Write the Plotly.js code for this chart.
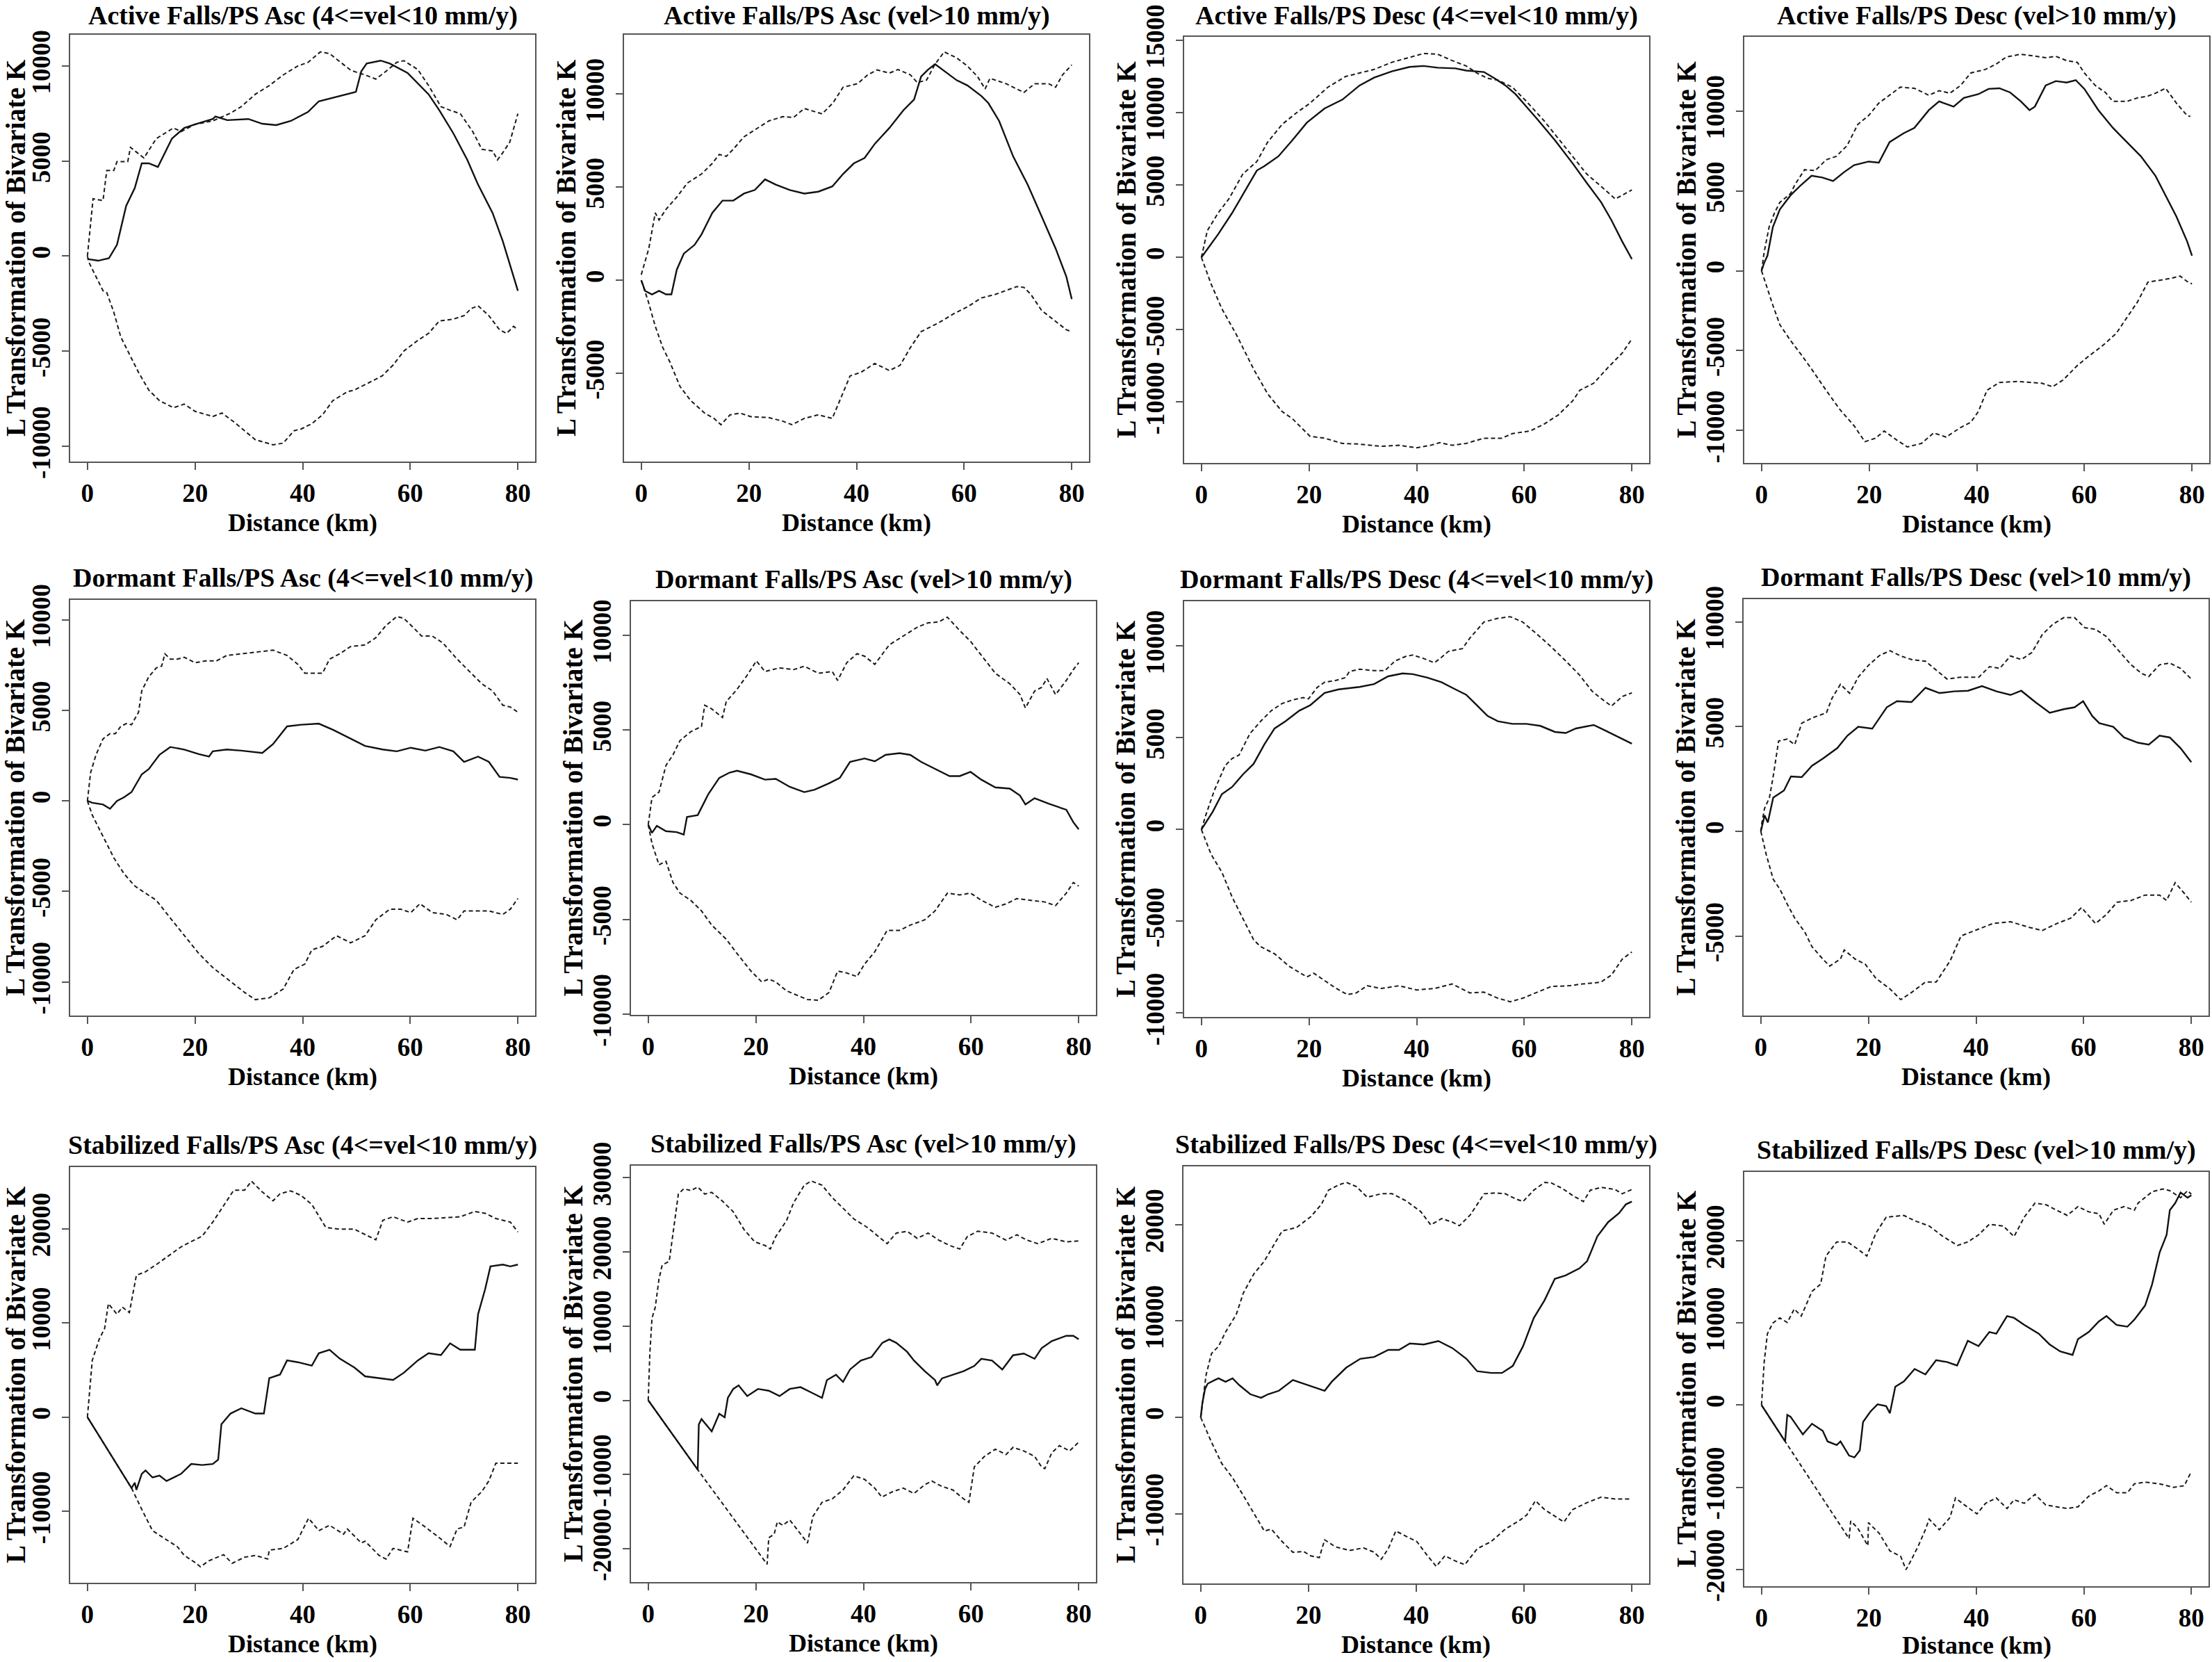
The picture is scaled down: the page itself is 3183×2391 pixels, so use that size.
<!DOCTYPE html>
<html><head><meta charset="utf-8">
<script src="https://cdn.plot.ly/plotly-3.0.1.min.js"></script>
<style>html,body{margin:0;padding:0;background:#fff}#chart{width:3183px;height:2391px}</style>
</head><body><div id="chart"></div>
<script>
// ---------------- DATA ----------------
const X_TICKS = [0, 20, 40, 60, 80];

// Panel 1: Active Falls/PS Asc (4<=vel<10 mm/y)
const p1_obs_x = [0,2,4,5.5,7.2,8.8,10.1,11.4,13.1,14.1,15.7,18,20,23.3,23.8,26,29.9,32.5,35.1,37.8,41,43,46.3,49.9,50.9,51.9,54.5,56.2,59.5,61.4,63.4,65.4,68,70.6,72.6,75.3,77.2,80];
const p1_obs_y = [-150,-240,-110,600,2640,3580,4880,4880,4690,5250,6180,6740,6930,7210,7340,7150,7210,6960,6890,7110,7580,8140,8380,8640,9720,10130,10280,10130,9630,9070,8510,7670,6460,5060,3760,2270,780,-1820];
const p1_hi_x = [0,1.05,2.9,3.6,4.9,5.5,7.5,8,10.5,12.8,16,17.4,20,23.3,26.6,28.6,31.2,33.8,36.4,39.1,41,43.3,45,47,49,51.6,53.6,55.5,57.5,58.8,61.4,63.4,65.7,67.4,69.3,71.6,73.3,75.3,76.2,77.2,78.5,80];
const p1_hi_y = [0,3020,2920,4500,4500,4970,4970,5720,5160,6180,6740,6550,6930,7110,7520,7860,8510,8970,9530,10000,10190,10740,10650,10190,9760,9530,9310,9720,10190,10280,9810,8970,7860,7670,7490,6550,5620,5530,5060,5440,6000,7490];
const p1_lo_x = [0,0.3,1.6,2.9,3.6,4.9,6.2,7.5,9.5,11.4,13.4,16,18,20,23.3,25,27.2,31.2,34.5,36.4,38.4,39.7,41.7,43.7,45.6,48.3,49.6,52.2,54.8,56.8,58.8,61.4,63.4,65.4,68,70,71.3,72.6,74.6,76.6,77.9,79.2,80];
const p1_lo_y = [0,-335,-1080,-1820,-1920,-2940,-4250,-4990,-6110,-7040,-7600,-7970,-7780,-8160,-8430,-8250,-8710,-9650,-9920,-9830,-9180,-9090,-8810,-8340,-7600,-7130,-7040,-6670,-6290,-5730,-4990,-4430,-4060,-3410,-3310,-3130,-2760,-2610,-3130,-3870,-4060,-3690,-3870];
const p1_ticks = [-10000,-5000,0,5000,10000];

// Panel 2: Active Falls/PS Asc (vel>10 mm/y)
const p2_obs_x = [0,0.7,2,3.3,4.6,5.6,6.6,7.9,9.9,11.2,13.2,15.1,17.1,19.1,21.1,23,25,27.6,30.3,32.9,35.5,37.5,39.5,41.5,43.4,46.1,48.7,50.7,52,53.3,54.6,56,58.6,60.6,63.2,64.5,66.5,69.1,71.8,74.4,77,79,80];
const p2_obs_y = [0,-570,-760,-570,-760,-760,570,1430,1900,2470,3620,4280,4280,4660,4850,5420,5140,4850,4660,4760,5040,5710,6280,6570,7330,8180,9130,9710,10940,11320,11610,11320,10750,10470,9900,9520,8560,6660,5140,3430,1710,190,-1010];
const p2_hi_x = [0,1.4,2.6,3.3,4.6,6.6,8.6,11.2,13.2,14.5,15.8,17.1,19.1,21.1,23.7,26.3,28.3,30.3,33.6,35.6,37.5,40.2,42.1,43.8,46.1,47.7,50,51.3,53,54.6,56.3,58.6,60.6,62.5,63.9,64.8,67.8,71.1,73.1,75.7,77,78.3,80];
const p2_hi_y = [300,1710,3620,3240,3810,4470,5230,5710,6280,6760,6660,7040,7710,8090,8560,8790,8750,9230,8940,9520,10370,10560,11040,11300,11130,11320,11040,10620,10750,11610,12270,11950,11510,10940,10280,10850,10560,10090,10560,10560,10370,11040,11570];
const p2_lo_x = [0,1.3,2.6,4,5.3,7.2,9.2,11.8,13.5,14.8,16.5,18.4,20.4,23.7,26.3,28,30.3,32.9,35.5,36.9,38.8,40.8,43.4,46.1,48.1,50,52,55.3,58,60.6,63.2,65.8,68.5,69.8,71.1,72.4,74.4,77,79,80];
const p2_lo_y = [0,-1140,-2470,-3620,-4380,-5710,-6470,-7140,-7420,-7760,-7230,-7140,-7330,-7380,-7570,-7760,-7420,-7230,-7420,-6470,-5140,-4950,-4470,-4850,-4570,-3620,-2760,-2280,-1810,-1430,-950,-760,-480,-340,-380,-760,-1620,-2190,-2660,-2760];
const p2_ticks = [-5000,0,5000,10000];

// Panel 3: Active Falls/PS Desc (4<=vel<10 mm/y)
const p3_obs_x = [0,3.1,5.7,8.4,10.3,11.7,14.3,16.9,19.6,22.9,26.2,29.4,32.1,35.4,38.7,41.3,43.9,47.2,49.2,52.5,54.5,56.5,58.4,60.4,62.4,65.7,69,71.6,74.3,76.2,78.2,80];
const p3_obs_y = [0,1590,3060,4780,6000,6300,6980,8090,9310,10290,10900,11880,12420,12860,13160,13230,13110,13060,12910,12810,12370,11880,11270,10410,9560,8090,6490,5150,3800,2570,1100,-120];
const p3_hi_x = [0,1.1,3.1,5.1,7.7,10.3,12.3,15,17.6,20.2,23.5,26.8,29.4,32.1,35.4,38.7,41.3,43.9,46.6,49.2,51.2,53.2,55.1,57.8,60.4,63.7,66.3,69,71.6,74.3,76.9,78.2,80];
const p3_hi_y = [0,1840,3060,4040,5760,6620,7960,9190,9970,10660,11760,12500,12740,12990,13480,13840,14090,14040,13600,13230,12740,12370,12250,11760,10780,9430,8210,6980,5760,4900,4040,4290,4660];
const p3_lo_x = [0,1.8,3.8,6.4,9.7,12.3,15,16.9,20.2,22.9,26.2,29.4,33.4,36.7,40,42.6,44.3,46.6,49.2,52.5,55.8,57.8,61.1,63.7,66.3,69,70.3,72.9,75.6,78.2,80];
const p3_lo_y = [0,-1840,-3550,-5270,-7720,-9430,-10660,-11150,-12370,-12500,-12860,-12910,-13060,-12990,-13160,-12990,-12810,-12990,-12860,-12500,-12500,-12180,-12000,-11520,-10900,-9920,-9190,-8700,-7600,-6620,-5640];
const p3_ticks = [-10000,-5000,0,5000,10000,15000];

// Panel 4: Active Falls/PS Desc (vel>10 mm/y)
const p4_obs_x = [0,0.5,1.1,2.1,3.4,5.4,7.4,9.3,11.3,13.3,15.3,17.2,19.9,21.8,23.8,26.4,28.4,31.1,33,35.7,37.6,40.3,42.2,44.2,46.2,48.2,49.8,50.8,52.8,54.7,56.7,58.4,60,62.6,65.3,67.9,70.5,73.2,75.1,77.1,79.1,80];
const p4_obs_y = [0,510,950,2730,3840,4730,5390,5950,5840,5620,6170,6620,6840,6770,8060,8610,8950,10060,10610,10280,10830,11060,11390,11430,11170,10610,10060,10280,11610,11880,11790,11940,11390,10060,8950,8060,7170,5950,4730,3400,1840,950];
const p4_hi_x = [0,0.5,1.4,2.4,3.4,5.4,6.2,8,10,12,13.9,15.9,17.9,19.9,21.8,23.8,25.8,28.4,31.1,33,35,37,38.9,41.6,43.6,45.5,48.2,50.8,52.8,54.7,56.7,58.7,60,62,63.9,65.3,67.9,69.9,71.8,73.2,75.1,77.1,79.1,79.7];
const p4_hi_y = [0,1180,2730,3620,4280,4840,5390,6330,6280,6950,7170,7840,9170,9720,10500,10990,11500,11430,10990,11280,11120,11610,12390,12610,12940,13390,13560,13450,13340,13430,13160,13050,12390,11610,11170,10610,10610,10830,10940,11120,11430,10500,9720,9660];
const p4_lo_x = [0,0.8,2.1,3.4,5.4,7.4,9.3,12,14.6,17.2,19.2,21.2,22.8,25.1,27.1,29.7,32,34.3,37,38.9,40.3,41.9,44.2,47.5,50.1,52.1,54.1,56.1,58.7,60.7,63.3,65.9,67.9,69.9,71.8,73.8,75.8,77.8,79.1,80];
const p4_lo_y = [0,-820,-2150,-3370,-4370,-5260,-6150,-7480,-8700,-9700,-10700,-10480,-10030,-10590,-11030,-10810,-10150,-10410,-9810,-9480,-8810,-7480,-6990,-6930,-6990,-7040,-7260,-6820,-5930,-5370,-4710,-3930,-2930,-1930,-710,-600,-490,-330,-670,-820];
const p4_ticks = [-10000,-5000,0,5000,10000];

// Panel 5: Dormant Falls/PS Asc (4<=vel<10 mm/y)
const p5_obs_x = [0,0.9,2.9,4.2,5.5,6.8,8.2,10.1,11.4,13.4,15.4,18,20.7,22.6,23.3,25.9,28.6,32.5,34.5,37.1,39.7,43,45.7,48.9,51.6,54.9,57.5,60.1,62.8,65.4,68,70,72.6,74.6,76.6,78.6,80];
const p5_obs_y = [0,-100,-200,-430,0,200,490,1470,1760,2550,2980,2840,2590,2450,2740,2840,2780,2650,3140,4120,4210,4270,3920,3430,3040,2840,2740,2940,2780,2980,2740,2160,2450,2160,1330,1270,1180];
const p5_hi_x = [0,0.6,1.6,2.9,4.2,5.2,6.2,7.2,8.2,9.5,10.1,11.4,12.8,13.8,14.4,15.4,16.7,18,20,22,24,25.9,28.6,31.2,34.5,37.1,39.1,40.4,42.4,43.7,45,46.9,48.9,51.6,53.6,55.5,57.5,58.8,60.8,62.1,64.1,66.1,68.7,70.7,73.3,75.3,77.2,78.6,80];
const p5_hi_y = [0,1570,2550,3430,3720,3720,4120,4270,4210,4900,6080,6860,7350,7450,8130,7840,7840,7940,7640,7740,7740,8040,8130,8230,8330,8040,7550,7060,7060,7060,7840,8130,8530,8620,9020,9700,10190,10090,9510,9110,9110,8720,7840,7250,6470,6080,5290,5190,4900];
const p5_lo_x = [0,0.9,2.9,4.9,6.8,8.8,10.8,12.8,15.4,18,20.7,23.3,25.9,29.2,31.2,33.8,36.4,38.4,40.4,41.7,43.7,46.3,48.9,51.6,53.6,56.2,58.2,60.1,61.8,64.1,66.7,68.7,70,72.6,74.6,77.2,78.6,80];
const p5_lo_y = [0,-780,-1960,-3140,-4020,-4700,-5100,-5490,-6470,-7450,-8430,-9210,-9800,-10580,-10980,-10880,-10390,-9310,-9020,-8230,-8040,-7450,-7840,-7450,-6570,-5980,-5980,-6170,-5680,-6170,-6270,-6570,-6080,-6080,-6080,-6270,-5980,-5390];
const p5_ticks = [-10000,-5000,0,5000,10000];

// Panel 6: Dormant Falls/PS Asc (vel>10 mm/y)
const p6_obs_x = [0,0.7,1.6,3.3,5.3,6.6,7.2,9.2,11.2,13.2,15.1,16.5,19.1,21.7,23.7,26.3,29,30.9,33.6,35.6,37.5,40.2,42.1,44.1,46.7,48.7,50.7,53.3,56,57.9,59.9,61.9,64.5,67.2,69.1,70.1,71.8,74.4,76.4,77.7,79,80];
const p6_obs_y = [0,-430,-60,-340,-390,-520,410,510,1630,2470,2750,2850,2660,2380,2420,2000,1720,1850,2190,2470,3320,3500,3350,3690,3780,3690,3320,2940,2570,2570,2790,2380,1970,1910,1540,1070,1400,1110,920,790,130,-240];
const p6_hi_x = [0,0.7,2,3.3,4.6,5.9,7.9,9.9,10.5,11.8,13.8,14.5,16.5,18.4,20.1,21.7,24.4,27,29,31.6,34.2,35.2,36.9,38.8,40.2,42.1,44.8,47.4,50,52,54,55.6,57.9,59.9,61.9,64.5,67.2,69.1,70.1,71.8,73.1,74.1,75.7,77.7,79,80];
const p6_hi_y = [0,1440,1720,3130,3690,4440,4910,5190,6310,6120,5660,6500,7150,7900,8650,8090,8280,8190,8370,8000,8090,7620,8560,9030,8900,8470,9500,9960,10430,10660,10710,10960,10250,9680,8930,8000,7440,6870,6160,7060,7250,7720,6870,7620,8190,8560];
const p6_lo_x = [0,0.7,2,3.3,4.6,5.9,7.9,9.9,11.8,14.5,16.5,19.1,21.1,22.4,23.7,25.7,27.7,29.6,31.6,33.6,35.2,36.9,38.8,40.2,42.1,44.4,46.7,48.7,51.4,53.3,55.6,57.9,59.9,61.9,64.5,66.5,68.5,71.1,73.7,75.7,77.7,79,80];
const p6_lo_y = [0,-990,-2120,-1930,-3050,-3610,-3990,-4550,-5300,-6050,-6800,-7730,-8300,-8150,-8300,-8770,-9010,-9230,-9270,-8860,-7730,-7830,-8020,-7360,-6710,-5580,-5580,-5300,-5020,-4550,-3610,-3710,-3610,-3990,-4360,-4180,-3900,-3990,-4080,-4270,-3610,-3050,-3240];
const p6_ticks = [-10000,-5000,0,5000,10000];

// Panel 7: Dormant Falls/PS Desc (4<=vel<10 mm/y)
const p7_obs_x = [0,0.8,2.1,3.8,5.7,7.7,9.7,11.7,13.6,15.6,18.2,20.2,22.9,25.5,29.4,32.1,34.7,37.4,39.3,42,44.6,47.2,49.2,51.2,53.2,55.1,57.8,60.4,63,65.7,67.7,69.6,71.6,72.9,74.9,76.9,80];
const p7_obs_y = [0,390,970,1930,2320,3000,3580,4640,5510,5900,6480,6770,7450,7640,7770,7930,8350,8510,8470,8280,8030,7640,7350,6770,6190,5900,5760,5760,5650,5320,5260,5510,5610,5700,5420,5130,4680];
const p7_hi_x = [0,0.8,2.4,4.4,5.7,7,9,11,13,15,16.9,18.9,19.9,21.5,22.9,24.9,26.8,27.5,29.4,32.1,34.1,36,38,39.3,41.3,43.3,44.6,45.9,48.5,49.9,52.5,55.1,57.4,59.7,62.4,65,67.7,70.3,72.6,74.2,76.2,78.2,80];
const p7_hi_y = [0,770,2130,3480,3870,4060,5220,5900,6480,6870,7060,7190,7120,7740,8030,8120,8280,8610,8740,8660,8660,9190,9440,9510,9320,9090,9380,9710,9860,10440,11310,11510,11600,11310,10640,9960,9190,8410,7540,7160,6730,7250,7450];
const p7_lo_x = [0,1.8,3.8,5.7,7.7,9.7,11,13.6,16.3,19.6,20.9,22.9,24.8,27.1,28.8,30.8,33.4,36.7,40,43.3,46.6,49.9,52.5,55.1,57.4,59.7,62.4,65,68.3,70.9,74.2,76.2,78.2,80];
const p7_lo_y = [0,-1350,-2320,-3670,-4840,-6000,-6380,-6770,-7450,-8030,-7830,-8220,-8610,-8990,-8900,-8510,-8660,-8510,-8740,-8660,-8410,-8900,-8860,-9190,-9380,-9190,-8860,-8550,-8510,-8410,-8320,-7930,-7060,-6670];
const p7_ticks = [-10000,-5000,0,5000,10000];

// Panel 8: Dormant Falls/PS Desc (vel>10 mm/y)
const p8_obs_x = [0,0.7,1.3,2.3,4.3,5.6,7.6,9.5,11.5,14.2,16.1,18.1,20.7,23.4,25.3,28,30.6,33.2,35.9,38.5,41.1,43.8,46.4,48.4,51,53.7,56.3,58.3,59.9,61.6,62.9,65.5,67.5,70.1,72.1,74.1,76,78,80];
const p8_obs_y = [0,760,420,1610,1950,2620,2590,3130,3470,3970,4570,4990,4900,5920,6210,6170,6850,6600,6680,6710,6930,6680,6510,6710,6170,5660,5830,5920,6210,5500,5160,4990,4480,4230,4140,4570,4480,3970,3300];
const p8_hi_x = [0,0.2,0.7,1.6,2.3,3.3,4.9,6.3,7.6,9.5,12.2,13.2,14.8,16.5,18.1,20.1,22.1,24,26,28,30.6,32.6,34.6,37.2,40.5,42.5,44.4,46.4,48.4,50.4,52.3,54.3,56.3,58.3,60.2,62.2,64.2,66.2,68.8,70.8,72.1,74.1,76,78,80];
const p8_hi_y = [0,420,1100,1610,2620,4310,4400,4140,5160,5410,5660,6340,7020,6590,7360,7950,8400,8620,8370,8200,8120,7690,7270,7360,7360,7860,7780,8370,8200,8540,9390,9890,10200,10200,9720,9640,9300,8710,7950,7530,7390,7950,8030,7780,7270];
const p8_lo_x = [0,1,2.3,3.6,4.9,6.3,8.2,9.5,11.5,12.8,14.8,15.5,17.5,19.4,21.4,24,26,28,30.6,32.6,35.2,37.2,39.8,43.1,46.4,49.7,52.3,55,57.6,59.6,62.2,64.2,66.2,68.8,71.4,74.1,75.4,77,78.7,80];
const p8_lo_y = [0,-1100,-2280,-2790,-3470,-4140,-4820,-5500,-6090,-6430,-6090,-5660,-6090,-6340,-7020,-7520,-8030,-7690,-7190,-7190,-6170,-4990,-4730,-4400,-4310,-4570,-4730,-4400,-4140,-3640,-4400,-3970,-3380,-3300,-3040,-3040,-3300,-2450,-2960,-3380];
const p8_ticks = [-5000,0,5000,10000];

// Panel 9: Stabilized Falls/PS Asc (4<=vel<10 mm/y)
const p9_obs_x = [0,8.2,8.8,9.1,10.1,10.8,12.1,13.4,14.7,16.1,17.4,19.3,21.3,23.3,24.3,24.9,26.6,28.6,31.2,32.8,33.8,35.8,37.1,39.1,41.7,43,45,46.9,49.6,51.6,54.2,56.8,58.8,61.4,63.4,65.7,67.4,69.3,72,72.6,73.9,74.9,77.2,78.6,80];
const p9_obs_y = [0,-7530,-6960,-7720,-6020,-5650,-6400,-6210,-6780,-6400,-6020,-4970,-5080,-4970,-4520,-750,380,940,380,380,4140,4520,6020,5830,5460,6780,7150,6210,5270,4330,4140,3950,4710,6020,6780,6590,7830,7150,7150,10920,13550,16000,16190,16000,16190];
const p9_hi_x = [0,0.9,2.2,3.2,3.9,5.5,6.5,7.8,9.1,10.8,12.8,14.7,17.4,19.3,21.3,23.3,25.3,27.2,29.2,30.5,32.5,34.5,35.8,37.8,39.7,41.7,44.3,46.9,49.6,51.6,53.6,54.9,56.8,59.5,61.4,64.1,66.7,69.3,72,73.9,75.9,78.6,80];
const p9_hi_y = [0,6020,8280,9410,12050,10920,11670,11100,15060,15430,16190,16940,18070,18630,19200,20700,22400,24090,24090,25030,23900,22960,23710,24010,23530,22580,20140,19950,19950,19380,18820,20890,21270,20700,21080,21080,21150,21270,21830,21640,21080,20700,19650];
const p9_lo_x = [0,8.2,10.1,12.1,14.1,16.7,18,20,21,22.6,25.3,26.9,29.2,31.2,33.5,33.8,36.4,39.1,41.1,43,45,47.6,48.3,50.9,51.6,54.2,55.5,56.8,59.5,60.5,62.8,65.4,67.4,68.7,70,71.3,73.3,74.6,75.9,77.9,80];
const p9_lo_y = [0,-7530,-9790,-12050,-12800,-13740,-14680,-15430,-15880,-15240,-14600,-15510,-14870,-14680,-15060,-14120,-13930,-12990,-10730,-12050,-11480,-12420,-11860,-13360,-13170,-14680,-15060,-13930,-14300,-10730,-11670,-12800,-13740,-11860,-11670,-9030,-7900,-6780,-4890,-4890,-4890];
const p9_ticks = [-10000,0,10000,20000];

// Panel 10: Stabilized Falls/PS Asc (vel>10 mm/y)
const p10_obs_x = [0,9.2,9.4,9.9,11.8,13.2,14.2,14.8,15.8,16.8,18.4,20.4,22.4,24.4,26.3,28.3,30.3,32.3,33.2,34.9,36.2,37.5,39.5,41.5,43.5,44.8,46.1,48.1,49.4,51.4,53.3,53.7,54.6,56.6,58.6,60.6,61.9,63.9,65.8,67.8,69.8,71.8,73.1,75,77.7,79,80];
const p10_obs_y = [0,-9360,-3250,-2530,-4200,-1810,-2290,330,1530,2010,570,1530,1290,570,1530,1770,1050,330,2720,3440,2480,4150,5350,5830,7740,8210,7740,6540,5350,3920,2720,2010,2960,3440,3920,4630,5590,5350,4150,6070,6300,5590,7020,7980,8690,8690,8210];
const p10_hi_x = [0,0.3,0.7,1.3,2,2.6,3.9,4.6,5.6,6.6,7.9,9.2,10.5,11.8,13.8,15.8,17.8,19.8,21.7,22.7,23.7,25.7,27,29,30.3,32.3,34.2,36.2,38.2,40.8,42.8,44.4,46.1,48.1,50,52,54,56,57.9,59.3,61.2,63.9,66.5,68.5,70.4,72.4,75,77.7,80];
const p10_hi_y = [0,6300,11080,12510,16330,18240,18720,22540,27800,28510,28270,28750,27800,28030,26840,25410,23020,21350,20870,20390,22060,24210,26600,28990,29560,28990,27320,25890,24450,23260,22060,21110,22540,22780,21830,22540,21590,20870,20390,22060,22780,22540,21590,22300,21590,21110,21830,21350,21490];
const p10_lo_x = [0,9.2,22.1,22.4,23.4,24,25,26.3,27.6,29.6,30.6,32.3,34.2,36.2,38.2,40.2,42.1,43.4,45.4,47.4,49.4,51.4,52.7,54.6,56.6,58.6,59.6,60.6,62.5,64.5,66.5,67.8,69.8,71.8,73.1,73.7,75,76.4,78.3,80];
const p10_lo_y = [0,-9360,-22110,-18530,-18050,-16380,-16860,-16140,-17340,-19250,-15660,-13750,-13280,-12080,-10170,-10650,-11840,-13040,-12320,-11840,-12560,-11370,-10890,-11610,-12080,-13280,-13750,-8980,-7550,-6590,-7310,-6350,-6830,-7550,-8980,-9220,-7070,-6110,-6830,-5640];
const p10_ticks = [-20000,-10000,0,10000,20000,30000];

// Panel 11: Stabilized Falls/PS Desc (4<=vel<10 mm/y)
const p11_obs_x = [0,0.3,0.8,1.3,2.6,3.3,4.6,5.9,7.2,9.2,11.2,12.5,14.5,17.1,19.1,21.2,23,24.3,27,29.6,32.2,34.8,36.8,38.8,41.4,44.1,46.7,49.3,51.3,53.9,55.9,57.9,59.8,61.8,63.8,65.7,67.7,70.3,71.7,73.6,75.6,77.6,78.9,80];
const p11_obs_y = [0,1470,2950,3500,3870,4050,3690,4050,3320,2400,2030,2400,2760,3870,3500,3130,2760,3690,5160,6080,6270,7000,7000,7670,7560,7920,7190,6080,4790,4610,4610,5340,7370,10320,12160,14380,14740,15480,16220,18800,20270,21190,22120,22410];
const p11_hi_x = [0,0.5,1,2,3.3,4.6,6.6,7.9,9.9,11.8,13.8,15.1,17.8,20.4,22.4,23.7,25.6,27,28.9,30.9,33.5,35.5,38.1,40.8,42.7,44.7,46.7,48,50,52.6,54.6,56.5,58.5,59.8,61.8,63.8,65.1,67.1,69,71,72.3,74.3,76.9,78.2,80];
const p11_hi_y = [0,2210,4420,6630,7370,8850,10690,12900,14930,16220,18060,19350,19720,20830,22120,23590,24140,24400,23960,22850,23220,23220,22480,21380,19980,20640,20270,19900,21010,23220,23300,23220,22670,22410,23590,24400,24330,23770,23040,22410,23590,23880,23660,23220,23660];
const p11_lo_x = [0,2,3.9,5.9,7.9,9.9,11.8,13.1,15.1,17.1,19.1,20.4,22,23,25,27.6,30.2,32.2,33.5,34.8,36.2,38.1,40.1,42.1,43.7,45.3,47.3,49,51.3,53.9,56.5,59.2,60.5,62.1,63.8,66.4,67.4,69,71.7,74.3,76.9,80];
const p11_lo_y = [0,-2580,-4790,-6270,-8110,-9950,-11800,-11610,-12900,-14010,-13930,-14380,-14560,-12720,-13450,-13820,-13560,-14010,-14740,-13640,-11800,-12350,-12900,-14380,-15480,-14380,-14930,-15300,-13640,-12900,-11610,-10690,-10140,-8660,-9580,-10510,-10870,-9580,-8850,-8290,-8480,-8480];
const p11_ticks = [-10000,0,10000,20000];

// Panel 12: Stabilized Falls/PS Desc (vel>10 mm/y)
const p12_obs_x = [0,4.4,4.8,5.4,7.7,9.4,11.4,12.3,14,14.7,16.3,17.3,18.3,18.9,20.3,21.6,23.2,23.9,24.9,26.5,28.5,30.5,32.5,34.5,36.4,38.4,40.4,42.4,43.7,45.7,47,48.9,51.6,53.6,55.6,56.9,57.9,58.9,60.9,62.8,64.2,66.1,68.1,69.4,71.4,72.7,74.1,75.4,76,77,78,79.3,80];
const p12_obs_y = [0,-4430,-1200,-1420,-3570,-2280,-3140,-4430,-4860,-4430,-6150,-6370,-5510,-2060,-770,90,-130,-990,2240,2880,4390,3740,5460,5250,4820,7830,7180,8900,8690,10840,10620,9760,8690,7400,6540,6320,6110,8040,8900,10190,10840,9760,9550,10410,12130,14710,18580,20730,23740,24600,25890,25250,25550];
const p12_hi_x = [0,0.5,1.1,2.1,3.4,4.8,6.1,7.4,9.4,11,12,14,16,17.9,19.6,21.3,23.2,26.5,28.5,31.2,33.8,36.5,38.4,40.4,42.4,45,47,48.9,50.9,53,54.9,56.9,58.9,60.9,62.8,63.8,65.5,67.5,69.4,70.1,72.7,74.7,76,78,79.3,80];
const p12_hi_y = [0,5250,8690,9980,10620,10060,11700,10840,13850,14710,18150,19870,19870,19010,18150,20950,22880,23100,22450,21810,20520,19440,19870,20730,22020,21810,20520,22880,24600,24390,23740,23100,24170,23530,23310,22020,23740,24170,23740,24600,25980,26320,26110,25250,26110,25680];
const p12_lo_x = [0,4.4,16.3,16.6,17.9,19.8,19.9,21.9,23.9,25.9,26.9,27.9,29.2,30.5,31.2,33.1,35.1,36.1,37.8,40.1,41.7,43.7,45.7,47,48.9,50.9,52.9,54.9,56.9,58.9,60.9,62.8,64.2,66.1,68.1,69.4,71.4,74.1,76.7,78.7,80];
const p12_lo_y = [0,-4430,-16260,-14110,-14970,-17120,-14320,-15610,-17760,-18410,-20040,-18840,-17120,-15180,-13890,-15180,-13680,-11310,-12170,-13250,-11960,-11310,-12600,-11530,-11960,-10880,-12170,-12390,-12600,-12390,-11100,-10450,-9810,-10670,-10670,-9590,-9380,-9590,-10020,-9810,-8090];
const p12_ticks = [-20000,-10000,0,10000,20000];

const TITLES = [
  'Active Falls/PS Asc (4&lt;=vel&lt;10 mm/y)', 'Active Falls/PS Asc (vel&gt;10 mm/y)',
  'Active Falls/PS Desc (4&lt;=vel&lt;10 mm/y)', 'Active Falls/PS Desc (vel&gt;10 mm/y)',
  'Dormant Falls/PS Asc (4&lt;=vel&lt;10 mm/y)', 'Dormant Falls/PS Asc (vel&gt;10 mm/y)',
  'Dormant Falls/PS Desc (4&lt;=vel&lt;10 mm/y)', 'Dormant Falls/PS Desc (vel&gt;10 mm/y)',
  'Stabilized Falls/PS Asc (4&lt;=vel&lt;10 mm/y)', 'Stabilized Falls/PS Asc (vel&gt;10 mm/y)',
  'Stabilized Falls/PS Desc (4&lt;=vel&lt;10 mm/y)', 'Stabilized Falls/PS Desc (vel&gt;10 mm/y)'
];
const X_TITLE = 'Distance (km)';
const Y_TITLE = 'L Transformation of Bivariate K';

// ---------------- LAYOUT (positions / styles) ----------------
const W = 3183, H = 2391;
const FONT = '"Liberation Serif","Times New Roman",Times,serif';
const panels = [
  {obs:[p1_obs_x,p1_obs_y],  hi:[p1_hi_x,p1_hi_y],  lo:[p1_lo_x,p1_lo_y],  ticks:p1_ticks,  yr:[-10800,11640], box:[101,50,770,664]},
  {obs:[p2_obs_x,p2_obs_y],  hi:[p2_hi_x,p2_hi_y],  lo:[p2_lo_x,p2_lo_y],  ticks:p2_ticks,  yr:[-9740,13190],  box:[898,50,1567,664]},
  {obs:[p3_obs_x,p3_obs_y],  hi:[p3_hi_x,p3_hi_y],  lo:[p3_lo_x,p3_lo_y],  ticks:p3_ticks,  yr:[-14210,15240], box:[1704,53,2373,666]},
  {obs:[p4_obs_x,p4_obs_y],  hi:[p4_hi_x,p4_hi_y],  lo:[p4_lo_x,p4_lo_y],  ticks:p4_ticks,  yr:[-12030,14650], box:[2510,53,3179,666]},
  {obs:[p5_obs_x,p5_obs_y],  hi:[p5_hi_x,p5_hi_y],  lo:[p5_lo_x,p5_lo_y],  ticks:p5_ticks,  yr:[-11860,11110], box:[101,863,770,1461]},
  {obs:[p6_obs_x,p6_obs_y],  hi:[p6_hi_x,p6_hi_y],  lo:[p6_lo_x,p6_lo_y],  ticks:p6_ticks,  yr:[-10040,11800], box:[908,865,1577,1460]},
  {obs:[p7_obs_x,p7_obs_y],  hi:[p7_hi_x,p7_hi_y],  lo:[p7_lo_x,p7_lo_y],  ticks:p7_ticks,  yr:[-10210,12440], box:[1704,865,2373,1463]},
  {obs:[p8_obs_x,p8_obs_y],  hi:[p8_hi_x,p8_hi_y],  lo:[p8_lo_x,p8_lo_y],  ticks:p8_ticks,  yr:[-8790,11080],  box:[2509,862,3178,1461]},
  {obs:[p9_obs_x,p9_obs_y],  hi:[p9_hi_x,p9_hi_y],  lo:[p9_lo_x,p9_lo_y],  ticks:p9_ticks,  yr:[-17580,26540], box:[101,1679,770,2277]},
  {obs:[p10_obs_x,p10_obs_y],hi:[p10_hi_x,p10_hi_y],lo:[p10_lo_x,p10_lo_y],ticks:p10_ticks, yr:[-24500,31620], box:[908,1677,1577,2276]},
  {obs:[p11_obs_x,p11_obs_y],hi:[p11_hi_x,p11_hi_y],lo:[p11_lo_x,p11_lo_y],ticks:p11_ticks, yr:[-17250,26060], box:[1703,1678,2373,2278]},
  {obs:[p12_obs_x,p12_obs_y],hi:[p12_hi_x,p12_hi_y],lo:[p12_lo_x,p12_lo_y],ticks:p12_ticks, yr:[-22060,28390], box:[2510,1686,3178,2282]}
];

const traces = [];
const layout = {
  width: W, height: H,
  margin: {l:0, r:0, t:0, b:0},
  paper_bgcolor: '#ffffff', plot_bgcolor: '#ffffff',
  showlegend: false, hovermode: false,
  font: {family: FONT, color: '#000'},
  annotations: []
};
const TICK_FONT = {family: FONT, size: 37, color: '#000', weight: 'bold'};
const axisCommon = {
  showline: true, mirror: true, linecolor: '#555', linewidth: 2,
  ticks: 'outside', ticklen: 10, tickwidth: 2, tickcolor: '#555',
  showgrid: false, zeroline: false, fixedrange: true,
  tickfont: TICK_FONT
};
const envLine = {color: '#1a1a1a', width: 2, dash: '6px,4px'};
const obsLine = {color: '#111', width: 2.4};

panels.forEach((p, i) => {
  const n = i + 1, sfx = n === 1 ? '' : String(n);
  const [l, t, r, b] = p.box;
  layout['xaxis' + sfx] = Object.assign({}, axisCommon, {
    domain: [l / W, r / W], anchor: 'y' + sfx, range: [-3.2, 83.2],
    tickmode: 'array', tickvals: X_TICKS, ticktext: X_TICKS.map(String), ticklabelstandoff: 2
  });
  layout['yaxis' + sfx] = Object.assign({}, axisCommon, {
    domain: [1 - b / H, 1 - t / H], anchor: 'x' + sfx, range: p.yr,
    tickmode: 'array', tickvals: p.ticks, ticktext: p.ticks.map(String), tickangle: -90,
    ticklabelstandoff: 2
  });
  const xa = 'x' + sfx, ya = 'y' + sfx;
  traces.push({x: p.hi[0], y: p.hi[1], xaxis: xa, yaxis: ya, mode: 'lines', line: envLine, hoverinfo: 'skip'});
  traces.push({x: p.lo[0], y: p.lo[1], xaxis: xa, yaxis: ya, mode: 'lines', line: envLine, hoverinfo: 'skip'});
  traces.push({x: p.obs[0], y: p.obs[1], xaxis: xa, yaxis: ya, mode: 'lines', line: obsLine, hoverinfo: 'skip'});
  const titleY = Math.max(t - 32, 22);
  layout.annotations.push({xref:'paper', yref:'paper', x:(l + r) / 2 / W, y:1 - titleY / H,
    xanchor:'center', yanchor:'middle', showarrow:false, text:TITLES[i],
    font:{family:FONT, size:38, color:'#000', weight:'bold'}});
  const xtY = Math.min(b + 88, 2367);
  layout.annotations.push({xref:'paper', yref:'paper', x:(l + r) / 2 / W, y:1 - xtY / H,
    xanchor:'center', yanchor:'middle', showarrow:false, text:X_TITLE,
    font:{family:FONT, size:36, color:'#000', weight:'bold'}});
  layout.annotations.push({xref:'paper', yref:'paper', x:Math.max(l - 84, 22) / W, y:1 - (t + b) / 2 / H,
    xanchor:'center', yanchor:'middle', showarrow:false, textangle:-90, text:Y_TITLE,
    font:{family:FONT, size:39, color:'#000', weight:'bold'}});
});

Plotly.newPlot('chart', traces, layout, {staticPlot: true, displayModeBar: false});
</script>
</body></html>
